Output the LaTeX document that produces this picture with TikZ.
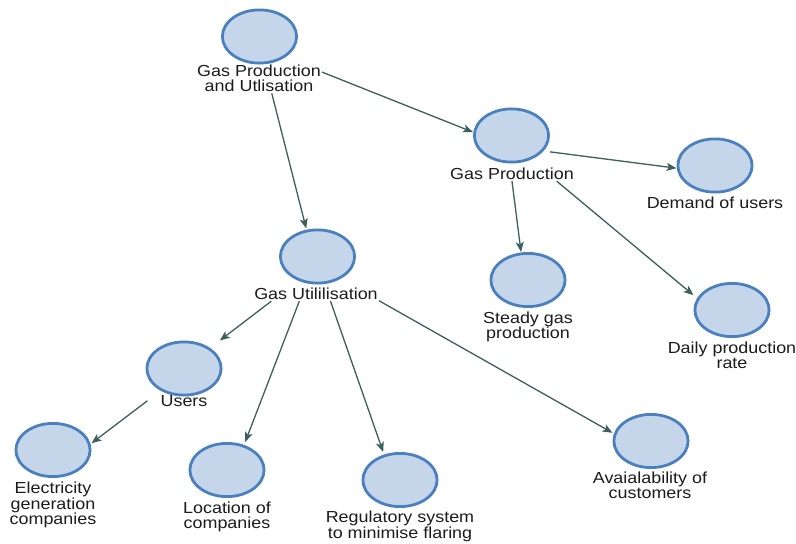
\documentclass[tikz,border=0pt]{standalone}
\usepackage{fontspec}
\setmainfont{Liberation Sans}[FakeStretch=1.12]
\usetikzlibrary{arrows.meta}
\definecolor{cfill}{RGB}{198,214,234}
\definecolor{cdraw}{RGB}{74,128,190}
\definecolor{cedge}{RGB}{62,96,92}
\definecolor{ctext}{RGB}{28,28,28}
\begin{document}
\begin{tikzpicture}[x=1pt,y=-1pt,
  bubble/.style={rectangle,minimum width=77pt,minimum height=56pt,inner sep=0pt,outer sep=0pt,
    path picture={\draw[draw=cdraw,fill=cfill,line width=2.8pt] (path picture bounding box.center) ellipse [x radius=37.1pt,y radius=26.6pt];}},
  lbl/.style={anchor=north,align=center,font=\fontsize{16}{15.2}\selectfont,text=ctext,inner sep=1pt},
  arr/.style={draw=cedge,line width=1.3pt,-{Stealth[length=10pt,width=8pt,inset=2.5pt]}}]
\useasboundingbox (0,0) rectangle (796,544);
\fill[white] (0,0) rectangle (796,544);
% bubbles
\node[bubble] (gpu) at (259.5,36.5) {};
\node[bubble] (gp) at (511.5,135.5) {};
\node[bubble] (dem) at (715,165.5) {};
\node[bubble] (steady) at (528,280) {};
\node[bubble] (daily) at (732,310) {};
\node[bubble] (gu) at (317.5,256.5) {};
\node[bubble] (users) at (184,368.5) {};
\node[bubble] (elec) at (53,450) {};
\node[bubble] (loc) at (227,470) {};
\node[bubble] (reg) at (400,480) {};
\node[bubble] (avail) at (651,441) {};
% labels
\node[lbl] (gpuL) at (259,64) {Gas Production\\and Utlisation};
\node[lbl] (gpL) at (512,167) {Gas Production};
\node[lbl] (demL) at (715,196) {Demand of users};
\node[lbl] (steadyL) at (528,311) {Steady gas\\production};
\node[lbl] (dailyL) at (732,341) {Daily production\\rate};
\node[lbl] (guL) at (316,287) {Gas Utililisation};
\node[lbl] (usersL) at (184,394) {Users};
\node[lbl] (elecL) at (53,481) {Electricity\\generation\\companies};
\node[lbl] (locL) at (227,501) {Location of\\companies};
\node[lbl] (regL) at (400,510) {Regulatory system\\to minimise flaring};
\node[lbl] (availL) at (650,471) {Avaialability of\\customers};
% connectors
\draw[arr] (gpuL.6) -- (gp.175);
\draw[arr] (gpuL.-49) -- (gu.112);
\draw[arr] (gp.-23) -- (dem.184);
\draw[arr] (gpL.south) -- (steady.104);
\draw[arr] (gpL.-9) -- (daily.159);
\draw[arr] (guL.189) -- (users.38);
\draw[arr] (guL.203) -- (loc.57);
\draw[arr] (guL.-26) -- (reg.121);
\draw[arr] (guL.-6) -- (avail.168);
\draw[arr] ([xshift=-12pt]usersL.west) -- (elec.10);
\end{tikzpicture}
\end{document}
